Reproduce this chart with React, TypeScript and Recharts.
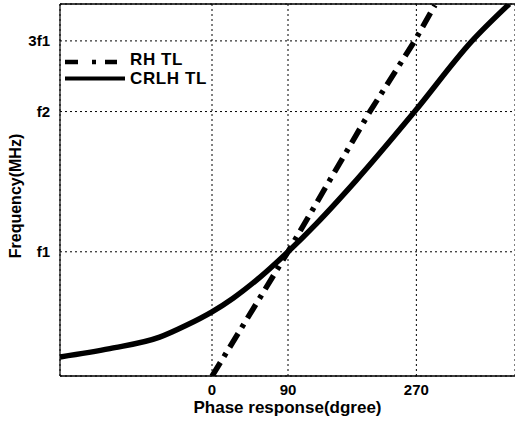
import React from 'react';
import { LineChart, Line, XAxis, YAxis, CartesianGrid, ReferenceLine } from 'recharts';

// Tick positions (axis units) and their printed labels
const phaseTicks = [0, 90, 242];
const phaseTickLabels = ['0', '90', '270'];
const freqTicks = [1, 2.33, 3];
const freqTickLabels = ['f1', 'f2', '3f1'];

// RH TL series
const rhPhase = [0, 90, 187, 240, 264];
const rhFreq = [-0.18, 1.0, 2.33, 3.0, 3.34];

// CRLH TL series
const crlhPhase = [-180, -121, -62, -31, 0, 25, 57, 90, 124, 171, 240, 308, 352];
const crlhFreq = [0.003, 0.082, 0.19, 0.3, 0.43, 0.56, 0.76, 1.0, 1.27, 1.68, 2.33, 3.0, 3.35];

const legendNames = ['RH TL', 'CRLH TL'];

const xDomain: [number, number] = [-180, 358.8];
const yDomain: [number, number] = [-0.178, 3.35];

const rhData = rhPhase.map((p, i) => ({ phase: p, freq: rhFreq[i] }));
const crlhData = crlhPhase.map((p, i) => ({ phase: p, freq: crlhFreq[i] }));

const FONT = '"Liberation Sans", Arial, sans-serif';
const DASHDOT = '16 7 4 7';

function LegendBox() {
  return (
    <svg
      width={170}
      height={44}
      style={{ position: 'absolute', left: 62, top: 48.5, display: 'block' }}
    >
      <line x1={3} x2={55} y1={13} y2={13} stroke="#000" strokeWidth={4.5} strokeDasharray="13 14 4 9" />
      <text x={68} y={15.5} fontFamily={FONT} fontWeight="bold" fontSize={17} fill="#000" letterSpacing={0.6}>
        {legendNames[0]}
      </text>
      <line x1={3} x2={63} y1={29.5} y2={29.5} stroke="#000" strokeWidth={4} />
      <text x={68} y={35} fontFamily={FONT} fontWeight="bold" fontSize={17} fill="#000" letterSpacing={0.6}>
        {legendNames[1]}
      </text>
    </svg>
  );
}

export default function App() {
  return (
    <div style={{ position: 'absolute', left: 0, top: 0, width: 515, height: 422, background: '#fff' }}>
      <LineChart width={515} height={422} margin={{ top: 4, right: 0, left: 0, bottom: 0 }}>
        <CartesianGrid stroke="#000" strokeDasharray="2 3" strokeWidth={1} />
        <XAxis
          type="number"
          dataKey="phase"
          domain={xDomain}
          ticks={phaseTicks}
          tickFormatter={(v: number) => phaseTickLabels[phaseTicks.indexOf(v)] ?? ''}
          allowDataOverflow
          height={46}
          tickLine={false}
          axisLine={{ stroke: '#000', strokeWidth: 1.5 }}
          tick={{ fill: '#000', fontFamily: FONT, fontWeight: 'bold', fontSize: 15 }}
          label={{
            value: 'Phase response(dgree)',
            position: 'insideBottom',
            offset: 9,
            fill: '#000',
            fontFamily: FONT,
            fontWeight: 'bold',
            fontSize: 17,
          }}
        />
        <YAxis
          type="number"
          dataKey="freq"
          domain={yDomain}
          ticks={freqTicks}
          tickFormatter={(v: number) => freqTickLabels[freqTicks.indexOf(v)] ?? ''}
          allowDataOverflow
          width={60}
          tickLine={false}
          tickMargin={4}
          axisLine={{ stroke: '#000', strokeWidth: 1.2 }}
          tick={{ fill: '#000', fontFamily: FONT, fontWeight: 'bold', fontSize: 15 }}
          label={{
            content: () => (
              <text
                x={15}
                y={196}
                transform="rotate(-90 15 196)"
                textAnchor="middle"
                dominantBaseline="central"
                fontFamily={FONT}
                fontWeight="bold"
                fontSize={16}
                fill="#000"
              >
                Frequency(MHz)
              </text>
            ),
          }}
        />
        <ReferenceLine y={yDomain[1]} stroke="#000" strokeWidth={1.5} />
        <Line
          data={rhData}
          dataKey="freq"
          type="linear"
          stroke="#000"
          strokeWidth={5.5}
          strokeDasharray={DASHDOT}
          dot={false}
          isAnimationActive={false}
        />
        <Line
          data={crlhData}
          dataKey="freq"
          type="monotone"
          stroke="#000"
          strokeWidth={5.5}
          dot={false}
          isAnimationActive={false}
        />
      </LineChart>
      <LegendBox />
    </div>
  );
}
